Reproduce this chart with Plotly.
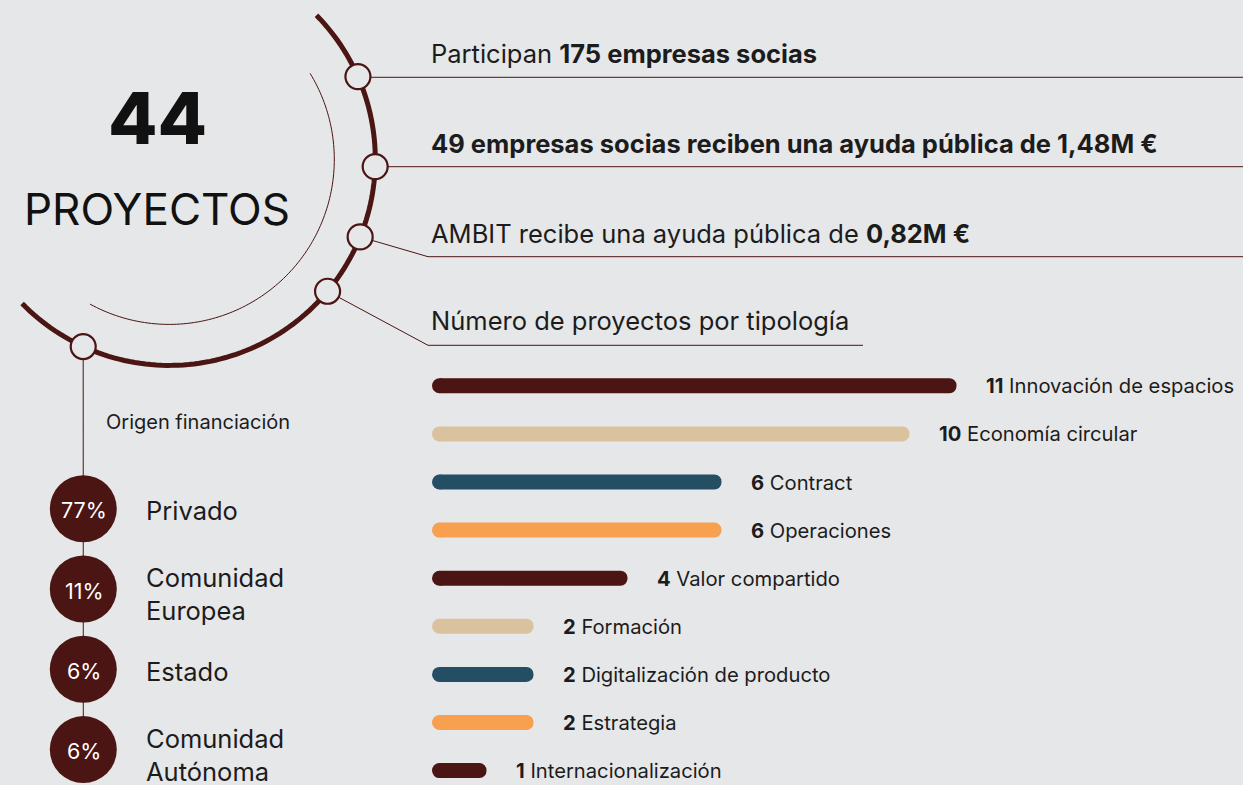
import math
import plotly.graph_objects as go

W, H = 1243, 785
BG = "#e6e7e9"
BROWN = "#4a1513"
BEIGE = "#dbc29e"
TEAL = "#244e63"
ORANGE = "#f7a04f"
INK = "#1c1c1c"
FONT = "Inter"

# ---------------- data ----------------
tipologias = ["Innovación de espacios", "Economía circular", "Contract", "Operaciones",
              "Valor compartido", "Formación", "Digitalización de producto", "Estrategia",
              "Internacionalización"]
proyectos = [11, 10, 6, 6, 4, 2, 2, 2, 1]
bar_colors = [BROWN, BEIGE, TEAL, ORANGE, BROWN, BEIGE, TEAL, ORANGE, BROWN]

origen = ["Privado", "Comunidad<br>Europea", "Estado", "Comunidad<br>Autónoma"]
origen_pct = [77, 11, 6, 6]

total_proyectos = 44
empresas_socias = 175
empresas_ayuda = 49
ayuda_empresas = "1,48M €"
ayuda_ambit = "0,82M €"

headers = [
    f"Participan <b>{empresas_socias} empresas socias</b>",
    f"<b>{empresas_ayuda} empresas socias reciben una ayuda pública de {ayuda_empresas}</b>",
    f"AMBIT recibe una ayuda pública de <b>{ayuda_ambit}</b>",
    "Número de proyectos por tipología",
]

# ---------------- layout geometry ----------------
CX, CY = 169.3, 159.4
R_BIG, R_SMALL = 206, 165
node_angles = [-23.7, 2.0, 22.1, 39.8, 114.7]
header_y = [53.3, 143.3, 233.3, 320.0]
line_y = [77.3, 166.7, 256.7, 345.3]

# bar axis: value 0 at pixel Z, S px per unit; rows at ROW0 + ROWH*i
Z, S = 439.5, 47.0
ROW0, ROWH = 385.8, 48.1
BAR_T = 15

fig = go.Figure()

# bars
fig.add_trace(go.Bar(
    x=proyectos, y=tipologias, orientation="h",
    marker=dict(color=bar_colors, line=dict(width=0), cornerradius=BAR_T / 2),
    width=BAR_T / ROWH, xaxis="x2", yaxis="y2", hoverinfo="skip", showlegend=False,
))
# round left caps
fig.add_trace(go.Scatter(
    x=[0] * len(tipologias), y=tipologias, mode="markers",
    marker=dict(size=BAR_T, color=bar_colors, line=dict(width=0)),
    xaxis="x2", yaxis="y2", hoverinfo="skip", showlegend=False,
))

# financing discs
disc_x = 83.3
disc_y = [508.7 + 80.3 * i for i in range(len(origen))]
fig.add_trace(go.Scatter(
    x=[disc_x] * len(origen), y=disc_y, mode="markers",
    marker=dict(size=67, color=BROWN, line=dict(width=0)),
    xaxis="x", yaxis="y", hoverinfo="skip", showlegend=False,
))

shapes = []


def arc_path(r, a0, a1, n=120):
    pts = []
    for k in range(n + 1):
        a = math.radians(a0 + (a1 - a0) * k / n)
        pts.append((CX + r * math.cos(a), CY + r * math.sin(a)))
    return "M " + " L ".join(f"{x:.2f},{y:.2f}" for x, y in pts)


shapes.append(dict(type="path", xref="x", yref="y", path=arc_path(R_BIG, -44.4, 135.6),
                   line=dict(color=BROWN, width=5), layer="below"))
shapes.append(dict(type="path", xref="x", yref="y", path=arc_path(R_SMALL, -31.4, 118.7),
                   line=dict(color=BROWN, width=1), layer="below"))

nodes = [(CX + R_BIG * math.cos(math.radians(a)), CY + R_BIG * math.sin(math.radians(a)))
         for a in node_angles]

# connector lines
n1, n2, n3, n4, n5 = nodes
conn = [
    f"M {n1[0]:.1f},{line_y[0]} L {W},{line_y[0]}",
    f"M {n2[0]:.1f},{line_y[1]} L {W},{line_y[1]}",
    f"M {n3[0]:.1f},{n3[1]:.1f} L 428,{line_y[2]} L {W},{line_y[2]}",
    f"M {n4[0]:.1f},{n4[1]:.1f} L 428,{line_y[3]} L 863,{line_y[3]}",
    f"M {n5[0]:.1f},{n5[1]:.1f} L {disc_x},{disc_y[-1]}",
]
for p in conn:
    shapes.append(dict(type="path", xref="x", yref="y", path=p,
                       line=dict(color=BROWN, width=1), layer="below"))

NR = 12.5
for (x, y) in nodes:
    shapes.append(dict(type="circle", xref="x", yref="y", x0=x - NR, x1=x + NR,
                       y0=y - NR, y1=y + NR, fillcolor=BG,
                       line=dict(color=BROWN, width=2.2), layer="below"))

ann = []
ann.append(dict(x=157.5, y=117.5, xref="x", yref="y", text=f"{total_proyectos}",
                showarrow=False, font=dict(family=FONT, size=72, color="#111", weight=800),
                xanchor="center", yanchor="middle"))
ann.append(dict(x=157, y=209, xref="x", yref="y", text="PROYECTOS",
                showarrow=False, font=dict(family=FONT, size=44, color="#111"),
                xanchor="center", yanchor="middle"))
for t, y in zip(headers, header_y):
    ann.append(dict(x=429, y=y, xref="x", yref="y", text=t, showarrow=False,
                    font=dict(family=FONT, size=25.5, color=INK),
                    xanchor="left", yanchor="middle"))
ann.append(dict(x=104, y=421.7, xref="x", yref="y", text="Origen financiación",
                showarrow=False, font=dict(family=FONT, size=20, color=INK),
                xanchor="left", yanchor="middle"))
for lab, p, y in zip(origen, origen_pct, disc_y):
    off = 5 if "<br>" in lab else 2
    ann.append(dict(x=144, y=y + off, xref="x", yref="y", text=lab, showarrow=False,
                    font=dict(family=FONT, size=25.5, color=INK),
                    xanchor="left", yanchor="middle", align="left"))
    ann.append(dict(x=disc_x + 1, y=y + 1.5, xref="x", yref="y", text=f"{p}%",
                    showarrow=False, font=dict(family=FONT, size=21.5, color="white"),
                    xanchor="center", yanchor="middle"))
for name, v in zip(tipologias, proyectos):
    ann.append(dict(x=v, y=name, xref="x2", yref="y2", text=f"<b>{v}</b> {name}",
                    showarrow=False, font=dict(family=FONT, size=20.2, color=INK),
                    xanchor="left", yanchor="middle", xshift=27))

fig.update_layout(
    width=W, height=H, margin=dict(l=0, r=0, t=0, b=0),
    paper_bgcolor=BG, plot_bgcolor=BG,
    shapes=shapes, annotations=ann, showlegend=False,
    xaxis=dict(range=[0, W], domain=[0, 1], visible=False, fixedrange=True),
    yaxis=dict(range=[H, 0], domain=[0, 1], visible=False, fixedrange=True),
    xaxis2=dict(range=[-Z / S, (W - Z) / S], domain=[0, 1], visible=False,
                overlaying="x", anchor="y2", fixedrange=True),
    yaxis2=dict(type="category", categoryorder="array", categoryarray=tipologias,
                range=[(H - ROW0) / ROWH, -ROW0 / ROWH], domain=[0, 1], visible=False,
                overlaying="y", anchor="x2", fixedrange=True),
)

fig.write_html(
    "out.html",
    config={"displayModeBar": False},
    post_script="document.body.style.margin='0';document.body.style.overflow='hidden';"
                "document.body.style.background='" + BG + "';",
)
